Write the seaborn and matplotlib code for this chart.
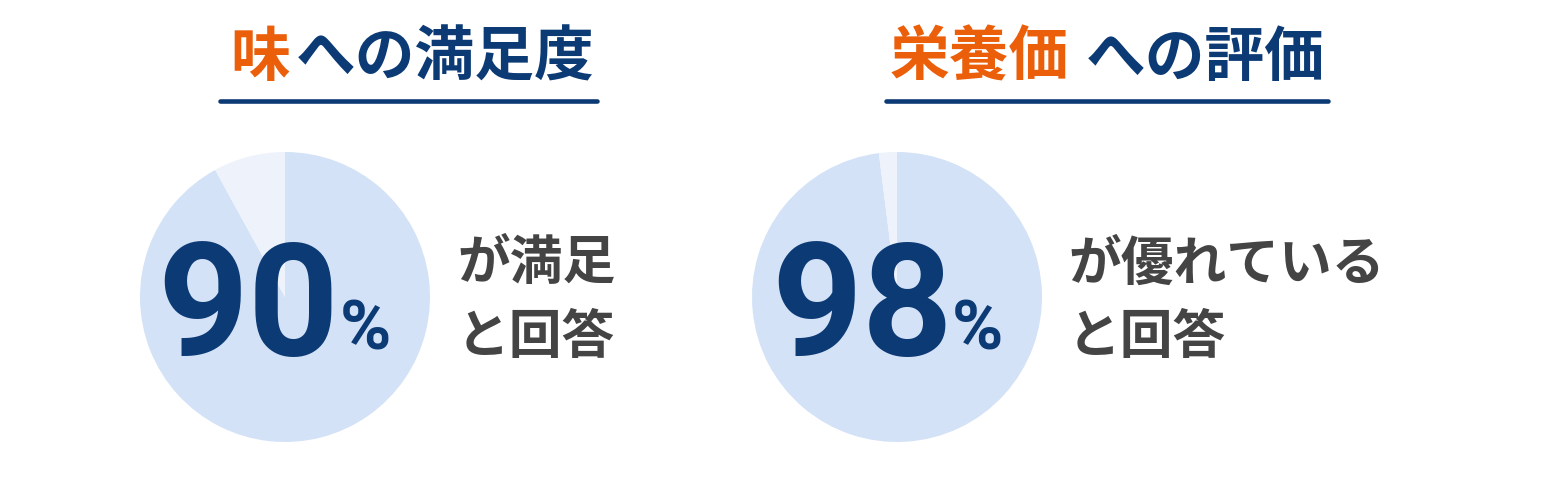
import seaborn as sns
import matplotlib.pyplot as plt
from matplotlib.lines import Line2D

# data
titles_accent = ["味", "栄養価"]
titles_rest = ["への満足度", "への評価"]
pie_main = [92, 98]
pie_rest = [8, 2]
big_labels = ["90", "98"]
captions = ["が満足\nと回答", "が優れている\nと回答"]

navy = "#0B3A75"
orange = "#EB5F0A"
pie_blue = "#D3E2F7"
pie_light = "#EDF2FB"
gray = "#444444"

sns.set_theme(style="white")
plt.rcParams["font.family"] = ["Noto Sans CJK JP", "DejaVu Sans"]

W, H = 1560, 496
fig = plt.figure(figsize=(W / 100, H / 100), dpi=100)
fig.patch.set_facecolor("white")


def fx(x):
    return x / W


def fy(y):
    return 1 - y / H


pie_cx = [285, 897]
title_x = [230, 890]
title_gap = [4, 12]
line_span = [(220, 597), (886, 1328)]
num_x = [248, 862]
pct_x = [340, 952]
cap_x = [457, 1068]
R = 145

for i in range(2):
    cx = pie_cx[i]
    ax = fig.add_axes([fx(cx - R), fy(297 + R), 2 * R / W, 2 * R / H])
    ax.pie([pie_main[i], pie_rest[i]], colors=[pie_blue, pie_light],
           startangle=90, counterclock=False, radius=1,
           wedgeprops=dict(linewidth=0))
    ax.set_xlim(-1, 1)
    ax.set_ylim(-1, 1)
    ax.axis("off")

    # title
    t1 = fig.text(fx(title_x[i]), fy(76), titles_accent[i], color=orange,
                  fontsize=43, fontweight="bold", ha="left", va="baseline")
    ax.annotate(titles_rest[i], xy=(1, 0), xycoords=t1,
                xytext=(title_gap[i], 0), textcoords="offset points",
                color=navy, fontsize=43, fontweight="bold",
                ha="left", va="bottom", annotation_clip=False)
    x0, x1 = line_span[i]
    fig.add_artist(Line2D([fx(x0), fx(x1)], [fy(101), fy(101)], color=navy,
                          linewidth=3.3, solid_capstyle="round"))

    # big number
    fig.text(fx(num_x[i]), fy(355), big_labels[i], color=navy, fontsize=114,
             fontweight="bold", ha="center", va="baseline",
             family=["Roboto", "DejaVu Sans"])
    fig.text(fx(pct_x[i]), fy(350), "%", color=navy, fontsize=50,
             fontweight="bold", ha="left", va="baseline",
             family=["Roboto", "DejaVu Sans"])

    # caption
    fig.text(fx(cap_x[i]), fy(301), captions[i], color=gray, fontsize=38,
             fontweight="bold", ha="left", va="center", linespacing=1.5)

fig.savefig("out.png", dpi=100, facecolor="white")
